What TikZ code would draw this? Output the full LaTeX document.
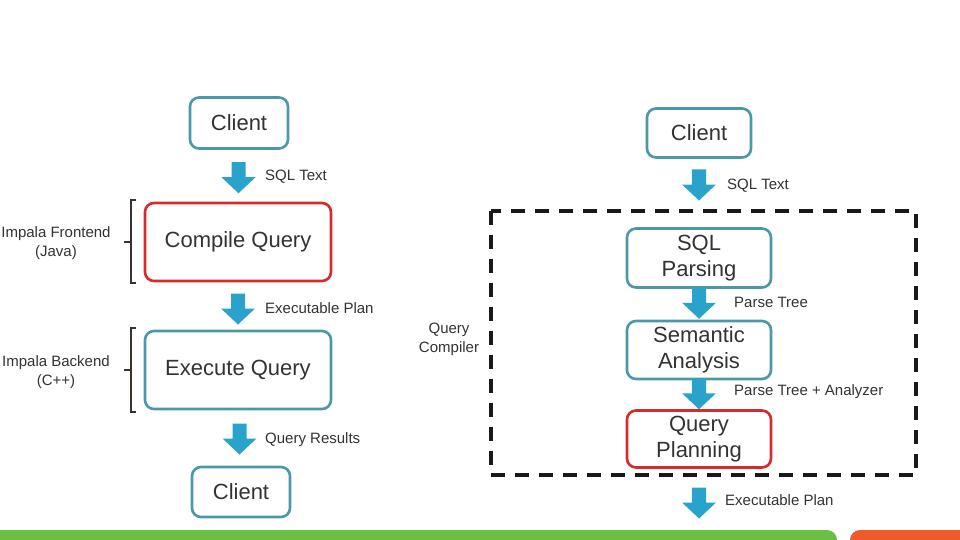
\documentclass[tikz,border=0pt]{standalone}
\usepackage{fontspec}
\setmainfont{Liberation Sans}
\usetikzlibrary{calc}
\definecolor{teal1}{HTML}{4A98A8}
\definecolor{red1}{HTML}{D62B2B}
\definecolor{arr}{HTML}{2AA3CC}
\definecolor{txt}{HTML}{333333}
\definecolor{grn}{HTML}{6CBF45}
\definecolor{org}{HTML}{EE5A2A}
\tikzset{
  box/.style={draw=teal1, line width=2.6pt, rounded corners=9pt, fill=white, text=txt,
    font=\fontsize{22}{26}\selectfont, align=center, inner sep=0pt},
  redbox/.style={box, draw=red1},
  lbl/.style={font=\fontsize{15}{18}\selectfont, text=txt, anchor=west, inner sep=0pt},
  side/.style={font=\fontsize{15}{19}\selectfont, text=txt, align=center, inner sep=0pt},
  blockarrow/.pic={\fill[arr] (-7,-15.5) -- (-7,-0.5) -- (-17,-0.5) -- (0,15.5) -- (17,-0.5) -- (7,-0.5) -- (7,-15.5) -- cycle;},
  brk/.style={draw=txt, line width=1.3pt}
}
\begin{document}
\begin{tikzpicture}[x=1pt,y=-1pt]
\useasboundingbox (0,0) rectangle (960,540);
\fill[white] (0,0) rectangle (960,540);

% ---------- left column ----------
\node[box, minimum width=98pt, minimum height=51pt] (lc1) at (239,123) {Client};
\node[redbox, minimum width=186pt, minimum height=78pt] (cq) at (238,242) {Compile Query};
\node[box, minimum width=186pt, minimum height=78pt] (eq) at (238,370) {Execute Query};
\node[box, minimum width=98pt, minimum height=50pt] (lc2) at (241,492) {Client};

\pic (a1) at ($(lc1.south)!0.5!(cq.north)+(0,2)$) {blockarrow};
\node[lbl] (t1) at (265,177) {SQL Text};
\pic (a2) at ($(cq.south)!0.5!(eq.north)+(0,3)$) {blockarrow};
\node[lbl] (t2) at (265,308) {Executable Plan};
\pic (a3) at ($(eq.south)!0.5!(lc2.north)+(0,1)$) {blockarrow};
\node[lbl] (t3) at (265,440) {Query Results};

\coordinate (b1t) at (131,200); \coordinate (b1b) at (131,283);
\draw[brk] ($(b1t)+(5,0)$) -- (b1t) -- (b1b) -- ($(b1b)+(5,0)$);
\draw[brk] (124,242) -- (131,242);
\node[side] (fe) at (56,243) {Impala Frontend\\(Java)};

\coordinate (b2t) at (131,328); \coordinate (b2b) at (131,412);
\draw[brk] ($(b2t)+(5,0)$) -- (b2t) -- (b2b) -- ($(b2b)+(5,0)$);
\draw[brk] (124,370) -- (131,370);
\node[side] (be) at (56,372) {Impala Backend\\(C++)};

% ---------- right column ----------
\node[box, minimum width=104pt, minimum height=49pt] (rc1) at (699,133) {Client};
\draw[line width=3.2pt, draw=black!90, dash pattern=on 14pt off 10pt] (491,211) coordinate (qtl) rectangle (916,475);
\node[side] (qc) at (449,339) {Query\\Compiler};
\node[box, minimum width=144pt, minimum height=59pt] (sp) at (699,258) {SQL\\Parsing};
\node[box, minimum width=144pt, minimum height=58pt] (sa) at (699,350) {Semantic\\Analysis};
\node[redbox, minimum width=144pt, minimum height=57pt] (qp) at (699,439) {Query\\Planning};
\coordinate (in) at (699,185);
\coordinate (out) at (699,503);

\pic (r1) at (in) {blockarrow};
\node[lbl] (s1) at (727,186) {SQL Text};
\pic (r2) at ($(sp.south)!0.5!(sa.north)+(0,-1)$) {blockarrow};
\node[lbl] (s2) at (734,302) {Parse Tree};
\pic (r3) at ($(sa.south)!0.5!(qp.north)+(0,-1)$) {blockarrow};
\node[lbl] (s3) at (734,392) {Parse Tree + Analyzer};
\pic (r4) at (out) {blockarrow};
\node[lbl] (s4) at (725,500) {Executable Plan};

% ---------- bottom band ----------
\fill[grn] (0,530) -- (827,530) arc[start angle=90, end angle=0, radius=10pt] -- (837,540) -- (0,540) -- cycle;
\fill[org] (960,530) -- (860,530) arc[start angle=90, end angle=180, radius=10pt] -- (850,540) -- (960,540) -- cycle;
\end{tikzpicture}
\end{document}
